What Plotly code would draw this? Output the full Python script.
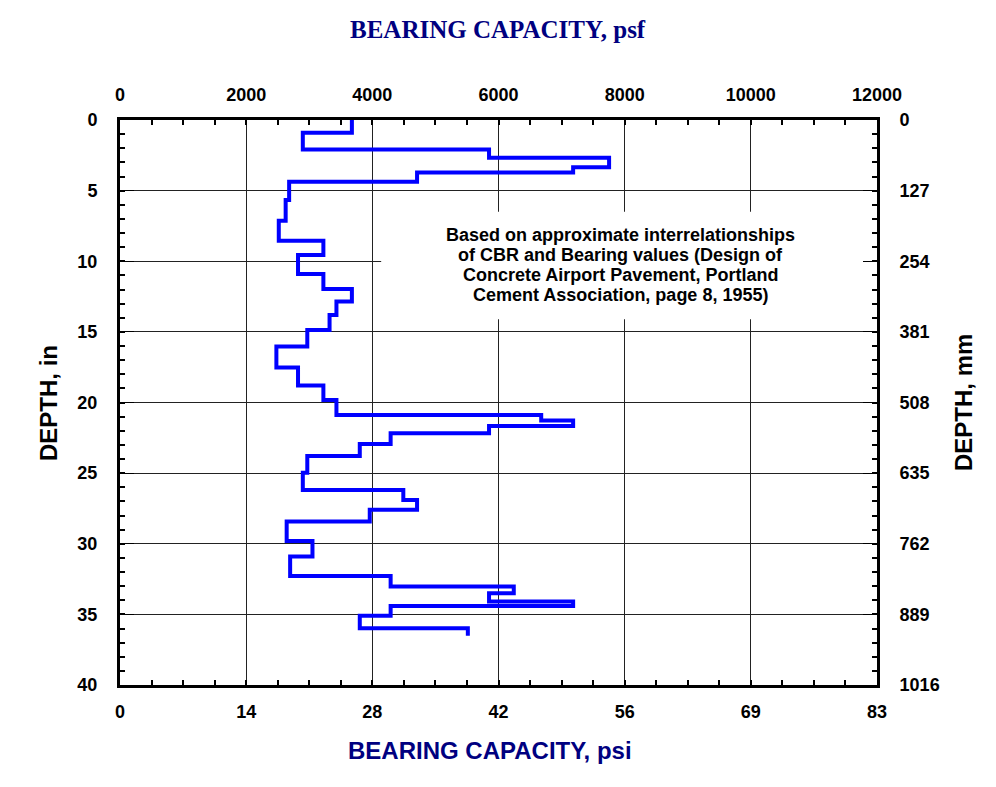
import plotly.graph_objects as go

# Depth boundaries (in) and bearing capacity (psf) for each interval
depth_bounds = [0, 0.90, 2.08, 2.67, 3.35, 3.71, 4.37, 5.66, 7.13, 8.54, 9.56, 10.90,
                11.96, 12.85, 13.80, 14.86, 16.04, 17.53, 18.80, 19.82, 20.88, 21.28,
                21.66, 22.18, 22.94, 23.79, 24.97, 26.19, 26.90, 27.60, 28.43, 29.80,
                30.91, 32.28, 33.03, 33.50, 34.09, 34.40, 35.10, 35.98, 36.52]
bearing_psf = [3676, 2898, 5850, 7753, 7183, 4709, 2681, 2626, 2517, 3224, 2822,
               3224, 3676, 3431, 3322, 2969, 2479, 2822, 3224, 3431, 6677, 7183,
               5850, 4290, 3801, 2969, 2898, 4491, 4709, 3959, 2642, 3051, 2697,
               4290, 6242, 5850, 7183, 4290, 3801, 5514]

psf_ticks = [0, 2000, 4000, 6000, 8000, 10000, 12000]
psi_labels = ["0", "14", "28", "42", "56", "69", "83"]
depth_ticks = [0, 5, 10, 15, 20, 25, 30, 35, 40]
mm_labels = ["0", "127", "254", "381", "508", "635", "762", "889", "1016"]

note_lines = ["Based on approximate interrelationships",
              "of CBR and Bearing values (Design of",
              "Concrete Airport Pavement, Portland",
              "Cement Association, page 8, 1955)"]

x_vals = bearing_psf + [bearing_psf[-1]]
y_vals = depth_bounds

tickfont = dict(family="Liberation Sans, Arial", size=18, color="black", weight="bold")

fig = go.Figure()
fig.add_trace(go.Scatter(x=x_vals, y=y_vals, mode="lines", line_shape="vh",
                         line=dict(color="#0000FF", width=4), showlegend=False,
                         hoverinfo="skip"))
fig.add_trace(go.Scatter(x=x_vals, y=y_vals, xaxis="x2", yaxis="y2", mode="lines",
                         line=dict(color="rgba(0,0,0,0)", width=0), showlegend=False,
                         hoverinfo="skip"))

common_x = dict(range=[0, 12000], tickvals=psf_ticks, showline=True, linewidth=3,
                linecolor="black", ticks="inside", ticklen=0, tickfont=tickfont,
                zeroline=False)
common_y = dict(range=[40, 0], tickvals=depth_ticks, showline=True, linewidth=3,
                linecolor="black", ticks="inside", ticklen=14, tickwidth=1,
                tickcolor="black", tickfont=tickfont, zeroline=False)
minor_x = dict(ticks="inside", dtick=500, ticklen=5, tickwidth=2, tickcolor="black",
               showgrid=False)
minor_y = dict(ticks="inside", dtick=1, ticklen=5, tickwidth=2, tickcolor="black",
               showgrid=False)

# page pixel -> paper coordinate helpers (plot area: x 120..877, y 120..685)
def px(xp):
    return (xp - 120) / 757

def py(yp):
    return (685 - yp) / 565

annotations = []
for i, line in enumerate(note_lines):
    annotations.append(dict(text=f"<b>{line}</b>", xref="paper", yref="paper",
                            x=px(620), y=py(235 + 20 * i), xanchor="center",
                            yanchor="middle", showarrow=False,
                            font=dict(family="Liberation Sans, Arial", size=18,
                                      color="black")))
annotations += [
    dict(text="<b>BEARING CAPACITY, psf</b>", xref="paper", yref="paper",
         x=px(498), y=py(30), xanchor="center", yanchor="middle", showarrow=False,
         font=dict(family="Liberation Serif, Times New Roman", size=25, color="#000080")),
    dict(text="<b>BEARING CAPACITY, psi</b>", xref="paper", yref="paper",
         x=px(490), y=py(750), xanchor="center", yanchor="middle", showarrow=False,
         font=dict(family="Liberation Sans, Arial", size=24, color="#000080")),
    dict(text="<b>DEPTH, in</b>", xref="paper", yref="paper",
         x=px(48), y=py(403), xanchor="center", yanchor="middle", showarrow=False,
         textangle=-90, font=dict(family="Liberation Sans, Arial", size=24, color="black")),
    dict(text="<b>DEPTH, mm</b>", xref="paper", yref="paper",
         x=px(963), y=py(403), xanchor="center", yanchor="middle", showarrow=False,
         textangle=-90, font=dict(family="Liberation Sans, Arial", size=24, color="black")),
]

fig.update_layout(
    width=988, height=779,
    margin=dict(l=112, r=119, t=112, b=102),
    paper_bgcolor="white", plot_bgcolor="white",
    xaxis=dict(**common_x, ticktext=psi_labels, side="bottom", showgrid=True,
               gridcolor="#222222", gridwidth=1, ticklabelstandoff=8, minor=minor_x),
    xaxis2=dict(**common_x, ticktext=[str(v) for v in psf_ticks], overlaying="x",
                side="top", showgrid=False, ticklabelstandoff=9, minor=minor_x),
    yaxis=dict(**common_y, ticktext=[str(v) for v in depth_ticks], side="left",
               showgrid=True, gridcolor="#222222", gridwidth=1, ticklabelstandoff=16,
               minor=minor_y),
    yaxis2=dict(**common_y, ticktext=mm_labels, overlaying="y", side="right",
                showgrid=False, ticklabelstandoff=16, minor=minor_y),
    shapes=[dict(type="rect", xref="x", yref="y", x0=4140, x1=12000, y0=6.5, y1=14.1,
                 fillcolor="white", line=dict(width=0), layer="between")],
    annotations=annotations,
)

fig.write_html("out.html")
